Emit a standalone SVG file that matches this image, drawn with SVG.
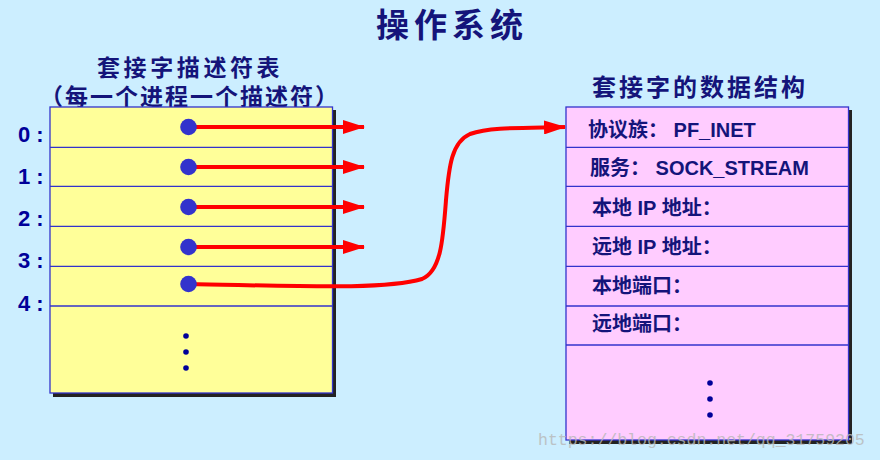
<svg xmlns="http://www.w3.org/2000/svg" width="880" height="460" viewBox="0 0 880 460">
<style>
.cjk{font-family:"Noto Sans CJK SC","Liberation Sans",sans-serif;fill:#14147a;font-weight:bold}
.lbl{font-family:"Liberation Sans","Noto Sans CJK SC",sans-serif;fill:#14147a;font-weight:bold;font-size:20px}
.num{font-family:"Liberation Sans",sans-serif;fill:#000099;font-weight:bold;font-size:22px}
.row{stroke:#3333cc;stroke-width:1.3}
.dot{fill:#3333cc}
.sdot{fill:#000099}
.arr{stroke:#ff0000;stroke-width:4;fill:none}
.wm{font-family:"Liberation Mono",monospace;font-size:16.5px;fill:#b8b8b8;opacity:0.8}
</style>
<defs>
<marker id="ah" markerUnits="userSpaceOnUse" markerWidth="22" markerHeight="14" refX="21" refY="7" orient="auto">
<path d="M0,0 L22,7 L0,14 Z" fill="#ff0000"/>
</marker>
</defs>
<rect width="880" height="460" fill="#cceeff"/>
<text class="cjk" x="376" y="37" font-size="33" letter-spacing="5">操作系统</text>
<text class="cjk" x="97" y="76" font-size="23" letter-spacing="3.6">套接字描述符表</text>
<text class="cjk" x="40" y="105" font-size="23" letter-spacing="2">（每一个进程一个描述符）</text>
<text class="cjk" x="592" y="96" font-size="24" letter-spacing="3">套接字的数据结构</text>
<g id="fdtable">
<rect x="53" y="110" width="283" height="287" fill="#222222"/>
<rect x="50" y="107" width="282.5" height="286" fill="#ffff99" stroke="#3333cc" stroke-width="1.3"/>
<line class="row" x1="50" y1="147.3" x2="332.5" y2="147.3"/>
<line class="row" x1="50" y1="186.3" x2="332.5" y2="186.3"/>
<line class="row" x1="50" y1="226.3" x2="332.5" y2="226.3"/>
<line class="row" x1="50" y1="266.3" x2="332.5" y2="266.3"/>
<line class="row" x1="50" y1="306" x2="332.5" y2="306"/>
<circle class="sdot" cx="186" cy="336" r="2.8"/>
<circle class="sdot" cx="186" cy="352" r="2.8"/>
<circle class="sdot" cx="186" cy="368" r="2.8"/>
</g>
<g id="labels">
<text class="num" x="18" y="142">0 :</text>
<text class="num" x="18" y="184">1 :</text>
<text class="num" x="18" y="226">2 :</text>
<text class="num" x="18" y="268">3 :</text>
<text class="num" x="18" y="311">4 :</text>
</g>
<g id="sockstruct">
<rect x="569" y="110" width="283" height="334" fill="#222222"/>
<rect x="566" y="107" width="282.5" height="333" fill="#ffccff" stroke="#3333cc" stroke-width="1.3"/>
<line class="row" x1="566" y1="147.3" x2="848.5" y2="147.3"/>
<line class="row" x1="566" y1="186.3" x2="848.5" y2="186.3"/>
<line class="row" x1="566" y1="226.3" x2="848.5" y2="226.3"/>
<line class="row" x1="566" y1="266.3" x2="848.5" y2="266.3"/>
<line class="row" x1="566" y1="306" x2="848.5" y2="306"/>
<line class="row" x1="566" y1="345" x2="848.5" y2="345"/>
<text class="lbl" x="588" y="137">协议族： PF_INET</text>
<text class="lbl" x="590" y="175">服务： SOCK_STREAM</text>
<text class="lbl" x="592" y="215">本地 IP 地址：</text>
<text class="lbl" x="592" y="254">远地 IP 地址：</text>
<text class="lbl" x="592" y="293">本地端口：</text>
<text class="lbl" x="592" y="331">远地端口：</text>
<circle class="sdot" cx="710" cy="383" r="2.8"/>
<circle class="sdot" cx="710" cy="399" r="2.8"/>
<circle class="sdot" cx="710" cy="415" r="2.8"/>
</g>
<g id="connectors">
<path class="arr" d="M188,127 H364" marker-end="url(#ah)"/>
<path class="arr" d="M188,167 H364" marker-end="url(#ah)"/>
<path class="arr" d="M188,207 H364" marker-end="url(#ah)"/>
<path class="arr" d="M188,247 H364" marker-end="url(#ah)"/>
<path class="arr" d="M188,284 C300,286 385,290 422,279 C441,271 443,240 446,200 C449,165 452,142 470,134 C490,127 520,128 565,127" marker-end="url(#ah)"/>
</g>
<g id="dots">
<circle class="dot" cx="188.5" cy="127" r="8.3"/>
<circle class="dot" cx="188.5" cy="167" r="8.3"/>
<circle class="dot" cx="188.5" cy="207" r="8.3"/>
<circle class="dot" cx="188.5" cy="247" r="8.3"/>
<circle class="dot" cx="188.5" cy="284" r="8.3"/>
</g>
<text class="wm" x="538" y="445">https://blog.csdn.net/qq_31759205</text>
</svg>
